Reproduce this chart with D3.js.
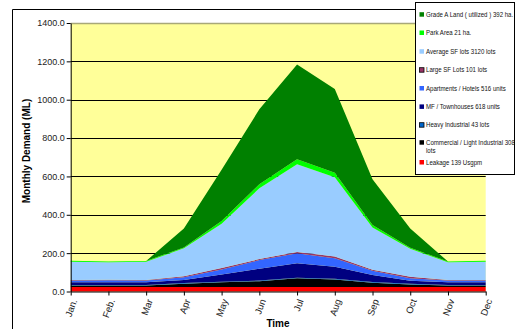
<!DOCTYPE html>
<html>
<head>
<meta charset="utf-8">
<script src="https://cdn.jsdelivr.net/npm/d3@7"></script>
<style>
html,body{margin:0;padding:0;background:#fff;}
svg{display:block;font-family:"Liberation Sans",Arial,sans-serif;}
</style>
</head>
<body>
<svg id="chart" width="521" height="329"></svg>
<script>
const months = ["Jan.","Feb.","Mar","Apr","May","Jun","Jul","Aug","Sep","Oct","Nov","Dec"];
const leakage    = [23,23,23,23,23,23,23,23,23,23,23,23];
const commercial = [8,8,8,18,25,31,46,40,23,14,8,8];
const heavy      = [3,3,3,3,3,3,3,3,3,3,3,3];
const mfTown     = [14,14,14,16,37,62,75,63,37,16,14,14];
const apartments = [10,11,10,14,27,45,52,44,22,13,10,10];
const largeSF    = [2,2,2,5,7,5,7,10,5,8,2,2];
const averageSF  = [95,91,95,146,231,369,457,413,221,146,92,95];
const parkArea   = [5,4,4,5,14,21,26,23,13,5,4,5];
const gradeA     = [0,0,0,99,268,391,495,437,238,101,0,0];
const yTicks = [0,200,400,600,800,1000,1200,1400];

const seriesNames = [
  "Leakage 139 Usgpm",
  "Commercial / Light Industrial 308 lots",
  "Heavy Industrial 43 lots",
  "MF / Townhouses 618 units",
  "Apartments / Hotels 516 units",
  "Large SF Lots 101 lots",
  "Average SF lots 3120 lots",
  "Park Area 21 ha.",
  "Grade A Land ( utilized ) 392 ha."
];
const seriesValues = [leakage, commercial, heavy, mfTown, apartments, largeSF, averageSF, parkArea, gradeA];
const seriesColors = ["#FF0000","#000000","#0066CC","#000080","#3366FF","#993366","#99CCFF","#00FF00","#008000"];

const rows = months.map((m,i)=>{
  const r = {month:m};
  seriesNames.forEach((n,k)=>{ r[n] = seriesValues[k][i]; });
  return r;
});

const svg = d3.select("#chart");
const x = d3.scalePoint().domain(months).range([70.7, 485.7]);
const y = d3.scaleLinear().domain([0,1400]).range([291.5, 23]);

// outer chart frame (left & top visible)
svg.append("path").attr("d","M12.5,329 V9.5 H416").attr("fill","none").attr("stroke","#000").attr("stroke-width",1);

// plot area
svg.append("rect").attr("x",x.range()[0]).attr("y",y(1400)).attr("width",x.range()[1]-x.range()[0]).attr("height",y(0)-y(1400)).attr("fill","#FFFF99");

// gridlines
svg.append("g").selectAll("line").data(yTicks.slice(1)).join("line")
  .attr("x1",x.range()[0]).attr("x2",x.range()[1])
  .attr("y1",d=>Math.round(y(d))+0.5).attr("y2",d=>Math.round(y(d))+0.5)
  .attr("stroke",d=>d===1400?"#A8A878":"#000").attr("stroke-width",d=>d===1400?1.5:1);

// stacked areas
const stack = d3.stack().keys(seriesNames);
const stacked = stack(rows);
const area = d3.area()
  .x(d=>x(d.data.month))
  .y0(d=>y(d[0]))
  .y1(d=>y(d[1]));
svg.append("g").selectAll("path").data(stacked).join("path")
  .attr("d",area)
  .attr("fill",(d,i)=>seriesColors[i]);

// y axis
const yAxis = d3.axisLeft(y).tickValues(yTicks).tickFormat(d3.format(".1f")).tickSize(4).tickSizeOuter(0).tickPadding(2);
const gy = svg.append("g").attr("transform",`translate(${x.range()[0]},0)`).call(yAxis);
gy.select(".domain").attr("stroke","#000");
gy.selectAll(".tick line").attr("stroke","#000");
gy.selectAll("text").attr("font-size","9px").attr("fill","#222").attr("font-family","Liberation Sans, Arial, sans-serif");

// x axis
const xAxis = d3.axisBottom(x).tickSize(4).tickSizeOuter(0);
const gx = svg.append("g").attr("transform",`translate(0,${y(0)})`).call(xAxis);
gx.select(".domain").attr("stroke","#000");
gx.selectAll(".tick line").attr("stroke","#000");
gx.selectAll("text")
  .attr("font-size","9.5px").attr("fill","#222").attr("font-family","Liberation Sans, Arial, sans-serif")
  .attr("text-anchor","end").attr("dy","0.35em")
  .attr("transform","translate(3,8) rotate(-70)")
  .attr("y",0).attr("x",0);

// axis titles
svg.append("text").attr("x",278).attr("y",327).attr("text-anchor","middle")
  .attr("font-size","10px").attr("font-weight","bold").attr("fill","#000").text("Time");
svg.append("text").attr("transform","translate(29.5,151) rotate(-90)").attr("text-anchor","middle")
  .attr("font-size","10px").attr("font-weight","bold").attr("fill","#000").text("Monthly Demand (ML)");

// legend
const lg = svg.append("g");
lg.append("rect").attr("x",415.5).attr("y",2.5).attr("width",99).attr("height",172).attr("fill","#fff").attr("stroke","#000").attr("stroke-width",1);
const legendOrder = [8,7,6,5,4,3,2,1,0];
const legendY = [14.5,32.8,51.5,70,88.3,106.7,125,142.5,162.3];
legendOrder.forEach((si,j)=>{
  const cy = legendY[j];
  const bordered = (si===5 || si===2);
  lg.append("rect").attr("x",419.5).attr("y",cy-2.3).attr("width",4.5).attr("height",4.5)
    .attr("fill",seriesColors[si]).attr("stroke",bordered?"#000":"none").attr("stroke-width",0.8);
  let lines = [seriesNames[si]];
  if (si===1) lines = ["Commercial / Light Industrial 308","lots"];
  const t = lg.append("text").attr("transform",`translate(426,${cy+2.4}) scale(0.87,1)`)
    .attr("font-size","7px").attr("fill","#111");
  lines.forEach((ln,k)=>{
    t.append("tspan").attr("x",0).attr("dy",k===0?0:8.3).text(ln);
  });
});
</script>
</body>
</html>
